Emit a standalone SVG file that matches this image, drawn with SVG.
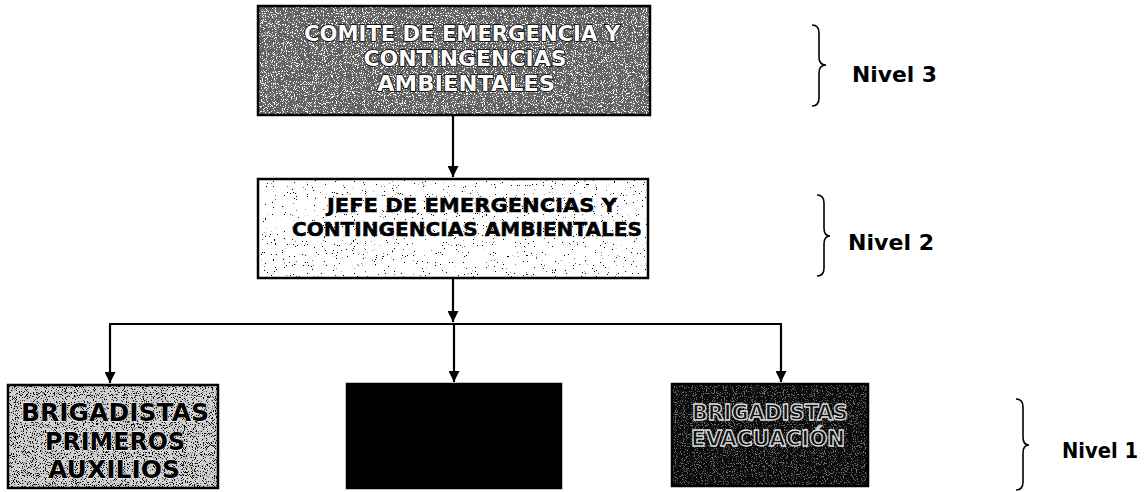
<svg xmlns="http://www.w3.org/2000/svg" width="1145" height="492" viewBox="0 0 1145 492">
<style>
.box{stroke:#000;stroke-width:2.5}
.t{font-family:"DejaVu Sans","Verdana",sans-serif;font-weight:bold;text-anchor:middle}
.tw{fill:#fff;stroke:#000;stroke-width:1.6;paint-order:stroke;font-size:21px}
.tb{fill:#000;stroke:#000;stroke-width:0.5;font-size:20px}
.tb1{fill:#000;stroke:#fff;stroke-width:1;paint-order:stroke;font-size:25px}
.to{fill:#111;stroke:#ddd;stroke-width:1.3;font-size:21px}
.lvl{font-family:"DejaVu Sans","Verdana",sans-serif;font-weight:bold;font-size:21px;fill:#000}
.br{fill:none;stroke:#000;stroke-width:1.6}
.ln{stroke:#000;stroke-width:2.2;fill:none}
</style>
<defs>
<marker id="ah" viewBox="0 0 10 10" refX="10" refY="5" markerWidth="5" markerHeight="5" orient="auto" markerUnits="strokeWidth">
<path d="M0,0 L10,5 L0,10 Z" fill="#000"/>
</marker>
<filter id="spkW" x="0" y="0" width="1" height="1">
<feTurbulence type="fractalNoise" baseFrequency="0.9" numOctaves="2" seed="4" result="n"/>
<feColorMatrix in="n" type="matrix" values="0 0 0 0 1 0 0 0 0 1 0 0 0 0 1 14 0 0 0 -8"/>
</filter>
<filter id="spkB" x="0" y="0" width="1" height="1">
<feTurbulence type="fractalNoise" baseFrequency="0.9" numOctaves="2" seed="7" result="n"/>
<feColorMatrix in="n" type="matrix" values="0 0 0 0 0 0 0 0 0 0 0 0 0 0 0 14 0 0 0 -8"/>
</filter>
<filter id="spkL" x="0" y="0" width="1" height="1">
<feTurbulence type="fractalNoise" baseFrequency="0.9" numOctaves="2" seed="9" result="n"/>
<feColorMatrix in="n" type="matrix" values="0 0 0 0 0 0 0 0 0 0 0 0 0 0 0 30 0 0 0 -21.5"/>
</filter>
</defs>
<rect width="1145" height="492" fill="#fff"/>

<g id="connectors">
<line class="ln" x1="453" y1="116" x2="453" y2="177" marker-end="url(#ah)"/>
<line class="ln" x1="453" y1="279" x2="453" y2="322" marker-end="url(#ah)"/>
<line class="ln" x1="109" y1="324" x2="782" y2="324"/>
<line class="ln" x1="110" y1="324" x2="110" y2="383" marker-end="url(#ah)"/>
<line class="ln" x1="454" y1="324" x2="454" y2="382" marker-end="url(#ah)"/>
<line class="ln" x1="781" y1="324" x2="781" y2="382" marker-end="url(#ah)"/>
</g>

<g id="comite">
<rect x="258" y="6" width="392" height="109" fill="#626262"/>
<rect x="258" y="6" width="392" height="109" filter="url(#spkW)"/>
<rect class="box" x="258" y="6" width="392" height="109" fill="none"/>
<text class="t tw" x="462" y="41" textLength="316" lengthAdjust="spacingAndGlyphs">COMITE DE EMERGENCIA Y</text>
<text class="t tw" x="465" y="66" textLength="203" lengthAdjust="spacingAndGlyphs">CONTINGENCIAS</text>
<text class="t tw" x="466" y="91" textLength="178" lengthAdjust="spacingAndGlyphs">AMBIENTALES</text>
</g>

<g id="jefe">
<rect x="258" y="179" width="390" height="99" fill="#fff"/>
<rect x="258" y="179" width="390" height="99" filter="url(#spkL)"/>
<rect class="box" x="258" y="179" width="390" height="99" fill="none"/>
<text class="t tb" x="472" y="212" textLength="290" lengthAdjust="spacingAndGlyphs">JEFE DE EMERGENCIAS Y</text>
<text class="t tb" x="467" y="236" textLength="350" lengthAdjust="spacingAndGlyphs">CONTINGENCIAS AMBIENTALES</text>
</g>

<g id="primeros">
<rect x="8" y="385" width="210" height="103" fill="#d0d0d0"/>
<rect x="8" y="385" width="210" height="103" filter="url(#spkB)"/>
<rect class="box" x="8" y="385" width="210" height="103" fill="none"/>
<text class="t tb1" x="115" y="421" textLength="188" lengthAdjust="spacingAndGlyphs">BRIGADISTAS</text>
<text class="t tb1" x="115" y="450" textLength="140" lengthAdjust="spacingAndGlyphs">PRIMEROS</text>
<text class="t tb1" x="114" y="478" textLength="132" lengthAdjust="spacingAndGlyphs">AUXILIOS</text>
</g>

<g id="incendio">
<rect class="box" x="347" y="384" width="214" height="104" fill="#000"/>
</g>

<g id="evacuacion">
<rect x="672" y="384" width="196" height="102" fill="#0a0a0a"/>
<rect x="672" y="384" width="196" height="102" filter="url(#spkW)" opacity="0.4"/>
<rect class="box" x="672" y="384" width="196" height="102" fill="none"/>
<text class="t to" x="770" y="420" textLength="156" lengthAdjust="spacingAndGlyphs">BRIGADISTAS</text>
<text class="t to" x="768" y="446" textLength="154" lengthAdjust="spacingAndGlyphs">EVACUACIÓN</text>
</g>

<g id="niveles">
<path class="br" d="M812,25 Q819,25 819,33 L819,57 Q819,65 826,65 Q819,65 819,73 L819,98 Q819,106 812,106"/>
<text class="lvl" x="852" y="82" textLength="85" lengthAdjust="spacingAndGlyphs">Nivel 3</text>
<path class="br" d="M817,195 Q824,195 824,203 L824,228 Q824,236 830,236 Q824,236 824,244 L824,268 Q824,276 817,276"/>
<text class="lvl" x="848" y="250" textLength="86" lengthAdjust="spacingAndGlyphs">Nivel 2</text>
<path class="br" d="M1016,399 Q1023,399 1023,407 L1023,437 Q1023,445 1029,445 Q1023,445 1023,453 L1023,482 Q1023,490 1016,490"/>
<text class="lvl" x="1062" y="458" textLength="76" lengthAdjust="spacingAndGlyphs">Nivel 1</text>
</g>
</svg>
